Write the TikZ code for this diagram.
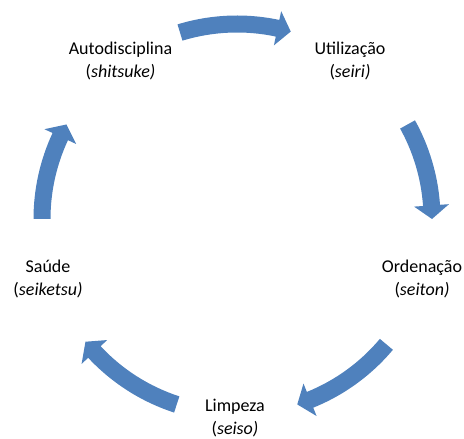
\documentclass[tikz,border=0pt]{standalone}
\usepackage{fontspec}
\setmainfont{Carlito}
\usepackage{tikz}
\usetikzlibrary{calc}

\definecolor{arrowblue}{RGB}{79,129,189}
\tikzset{
    label5s/.style={align=center, anchor=base, inner sep=0pt, font=\fontsize{13.5}{17.5}\selectfont},
    cyclefill/.style={fill=arrowblue, draw=none}
}
% block arrow on the circle round (c): tail angle, head base angle, tip angle
\newcommand{\cyclearrow}[3]{%
    \fill[cyclefill] ($(c)+(#1:203.5)$) arc[start angle=#1, end angle=#2, radius=203.5]
        -- ($(c)+(#2:212.5)$) -- ($(c)+(#3:195)$) -- ($(c)+(#2:177.5)$)
        -- ($(c)+(#2:186.5)$) arc[start angle=#2, end angle=#1, radius=186.5] -- cycle;}

\begin{document}
\begin{tikzpicture}[x=0.75pt,y=0.75pt]
        \useasboundingbox (0,0) rectangle (464,439);
        \coordinate (c) at (237,220);

        % the five steps (base = baseline of the second line)
        \node[label5s] (auto)  at (120.5,361) {Autodisciplina\\(\textit{shitsuke)}};
        \node[label5s] (util)  at (350,361)   {Utilização\\(\textit{seiri)}};
        \node[label5s] (orden) at (422,143)   {Ordenação\\(\textit{seiton)}};
        \node[label5s] (limp)  at (235,4)     {Limpeza\\(\textit{seiso)}};
        \node[label5s] (saude) at (48,143)    {Saúde\\(\textit{seiketsu)}};

        % arrows between the steps, clockwise
        \cyclearrow{107}{78}{74}     % auto -> util
        \cyclearrow{29}{4}{0}        % util -> orden
        \cyclearrow{-40}{-68}{-72}   % orden -> limp
        \cyclearrow{-108}{-137}{-141}% limp -> saude
        \cyclearrow{180}{155}{151}   % saude -> auto
    \end{tikzpicture}
\end{document}
